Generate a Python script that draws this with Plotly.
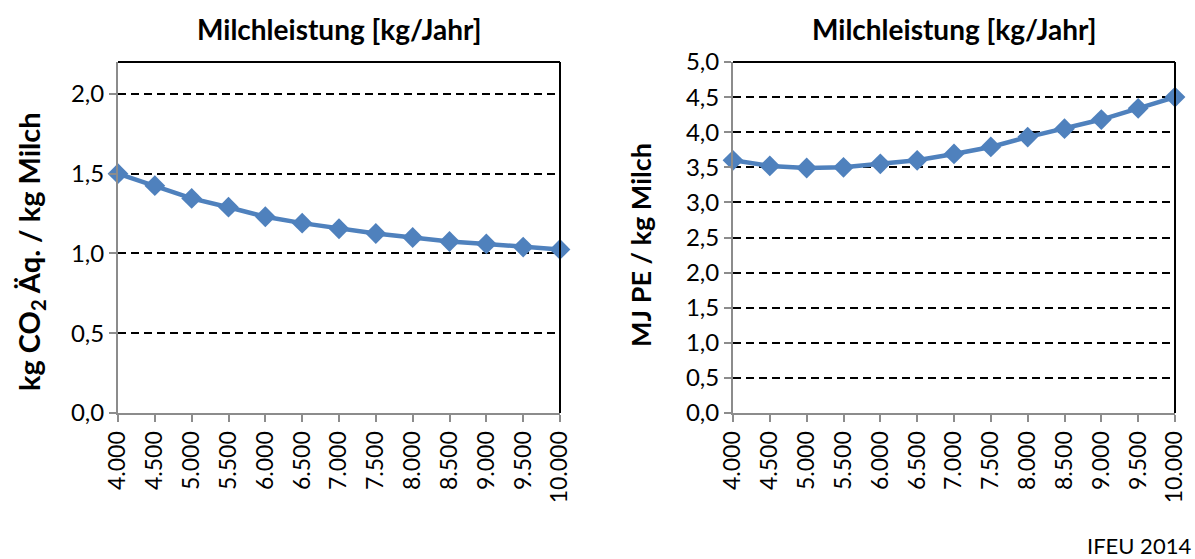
import plotly.graph_objects as go

milk = [4000, 4500, 5000, 5500, 6000, 6500, 7000, 7500, 8000, 8500, 9000, 9500, 10000]
co2 = [1.50, 1.425, 1.345, 1.29, 1.23, 1.19, 1.155, 1.125, 1.10, 1.075, 1.06, 1.04, 1.025]
energy = [3.60, 3.52, 3.49, 3.50, 3.55, 3.60, 3.69, 3.79, 3.93, 4.05, 4.18, 4.34, 4.50]

title_text = "Milchleistung [kg/Jahr]"
ytitle_left = "kg CO<sub>2</sub> Äq. / kg Milch"
ytitle_right = "MJ PE / kg Milch"
source = "IFEU 2014"

blue = "#4F81BD"
FONT = "Lato"

fig = go.Figure()
for xs, ys, xa, ya in [(milk, co2, "x", "y"), (milk, energy, "x2", "y2")]:
    fig.add_trace(go.Scatter(
        x=xs, y=ys, xaxis=xa, yaxis=ya, mode="lines+markers",
        line=dict(color=blue, width=4.5),
        marker=dict(symbol="diamond", size=16, color=blue),
        cliponaxis=False, showlegend=False,
    ))

yb, yt = 1 - 413 / 559, 1 - 62 / 559
dl = (118 / 1195, 560 / 1195)
dr = (733 / 1195, 1175 / 1195)

xcommon = dict(
    range=[4000, 10000], tickvals=milk, tickformat=",d", tickangle=-90,
    showline=True, linecolor="#8c8c8c", linewidth=2,
    ticks="outside", ticklen=7, tickwidth=2, tickcolor="#8c8c8c",
    showgrid=False, zeroline=False, automargin=False,
    tickfont=dict(family=FONT, size=23, color="black"),
)
ycommon = dict(
    dtick=0.5, tick0=0, tickformat=".1f",
    showline=True, linecolor="#8c8c8c", linewidth=2,
    ticks="outside", ticklen=7, tickwidth=2, tickcolor="#8c8c8c",
    showgrid=True, gridcolor="black", griddash="8px,5px", gridwidth=1.5,
    zeroline=False, automargin=False,
    tickfont=dict(family=FONT, size=24, color="black"),
)

fig.update_layout(
    width=1195, height=559,
    margin=dict(l=0, r=0, t=0, b=0),
    paper_bgcolor="white", plot_bgcolor="white",
    separators=",.",
    font=dict(family=FONT, color="black"),
    xaxis=dict(domain=list(dl), anchor="y", **xcommon),
    yaxis=dict(domain=[yb, yt], anchor="x", range=[0, 2.2], **ycommon),
    xaxis2=dict(domain=list(dr), anchor="y2", **xcommon),
    yaxis2=dict(domain=[yb, yt], anchor="x2", range=[0, 5.0], **ycommon),
)

# black top/right frame lines
for xr, yr in [("x domain", "y domain"), ("x2 domain", "y2 domain")]:
    fig.add_shape(type="line", xref=xr, yref=yr, x0=0, x1=1, y0=1, y1=1,
                  line=dict(color="black", width=2))
    fig.add_shape(type="line", xref=xr, yref=yr, x0=1, x1=1, y0=0, y1=1,
                  line=dict(color="black", width=2))

for d in (dl, dr):
    fig.add_annotation(text="<b>" + title_text + "</b>", xref="paper", yref="paper",
                       x=(d[0] + d[1]) / 2, y=1 - 29 / 559, showarrow=False,
                       font=dict(family=FONT, size=28, color="black"),
                       xanchor="center", yanchor="middle")

fig.add_annotation(text="<b>" + ytitle_left + "</b>", xref="paper", yref="paper",
                   x=30 / 1195, y=1 - 252 / 559, showarrow=False, textangle=-90,
                   font=dict(family=FONT, size=29, color="black"),
                   xanchor="center", yanchor="middle")
fig.add_annotation(text="<b>" + ytitle_right + "</b>", xref="paper", yref="paper",
                   x=640 / 1195, y=1 - 245 / 559, showarrow=False, textangle=-90,
                   font=dict(family=FONT, size=27, color="black"),
                   xanchor="center", yanchor="middle")

fig.add_annotation(text=source, xref="paper", yref="paper", x=1193 / 1195, y=1 - 545 / 559,
                   showarrow=False, xanchor="right", yanchor="middle",
                   font=dict(family=FONT, size=22, color="black"))

fig.write_html("out.html")
